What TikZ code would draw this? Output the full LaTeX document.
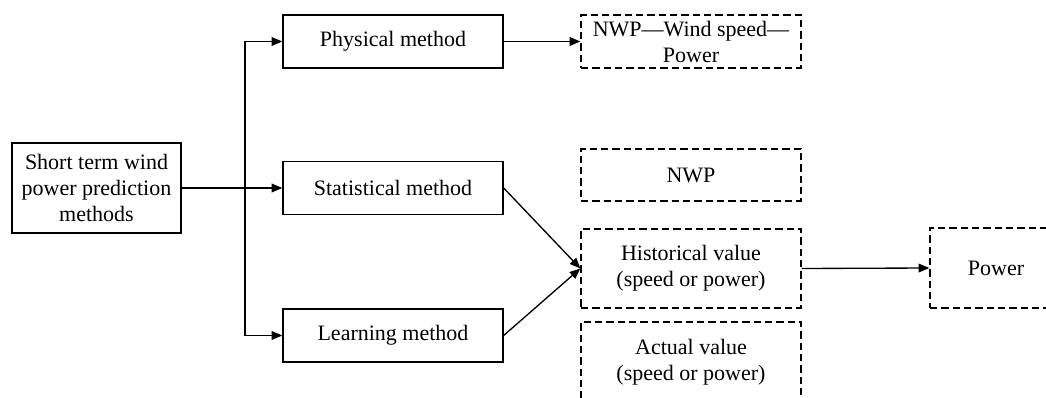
\documentclass[tikz,border=0pt]{standalone}
\usepackage{fontspec}
\setmainfont{Liberation Serif}
\usetikzlibrary{arrows.meta}

\begin{document}
\begin{tikzpicture}[x=0.75pt, y=-0.75pt,
  every node/.style={font=\fontsize{16.5}{19.5}\selectfont, align=center, inner sep=0pt},
  solidbox/.style={draw, line width=1pt, minimum width=165pt, minimum height=39.75pt},
  dashbox/.style={draw, line width=1pt, dash pattern=on 5.5pt off 3pt, minimum width=165pt},
  arr/.style={-{Triangle[length=8pt, width=6.5pt]}, line width=1pt}]
% Page frame
\useasboundingbox (0,0) rectangle (1046,398);
\clip (0,0) rectangle (1046,398);

% Root box
\node[solidbox, minimum width=126.75pt, minimum height=67.5pt] (methods) at (96.5,188)
  {Short term wind\\power prediction\\methods};

% Method boxes
\node[solidbox] (phys)  at (393,41.5)  {Physical method};
\node[solidbox] (stat)  at (393,188)   {Statistical method};
\node[solidbox] (learn) at (393,335.5) {Learning method};

% Input / output boxes
\node[dashbox, minimum height=39.75pt] (chain) at (691,41.5) {NWP—Wind speed—\\Power};
\node[dashbox, minimum height=39pt]    (nwp)   at (691,175)   {NWP};
\node[dashbox, minimum height=59.25pt] (hist)  at (691,268.5) {Historical value\\(speed or power)};
\node[dashbox, minimum height=60pt]    (act)   at (691,362)   {Actual value\\(speed or power)};
\node[dashbox, minimum width=99pt, minimum height=60pt] (power) at (996,268) {Power};

% Branches
\coordinate (split) at (245,188);
\draw[arr] (methods.east) -- (stat.west);
\draw[arr] (split) |- (phys.west);
\draw[arr] (split) |- (learn.west);

% Flows
\draw[arr] (phys.east) -- (chain.west);
\draw[arr] (stat.east) -- (hist.west);
\draw[arr] (learn.east) -- (hist.west);
\draw[arr] (hist.east) -- (power.west);

\end{tikzpicture}
\end{document}
